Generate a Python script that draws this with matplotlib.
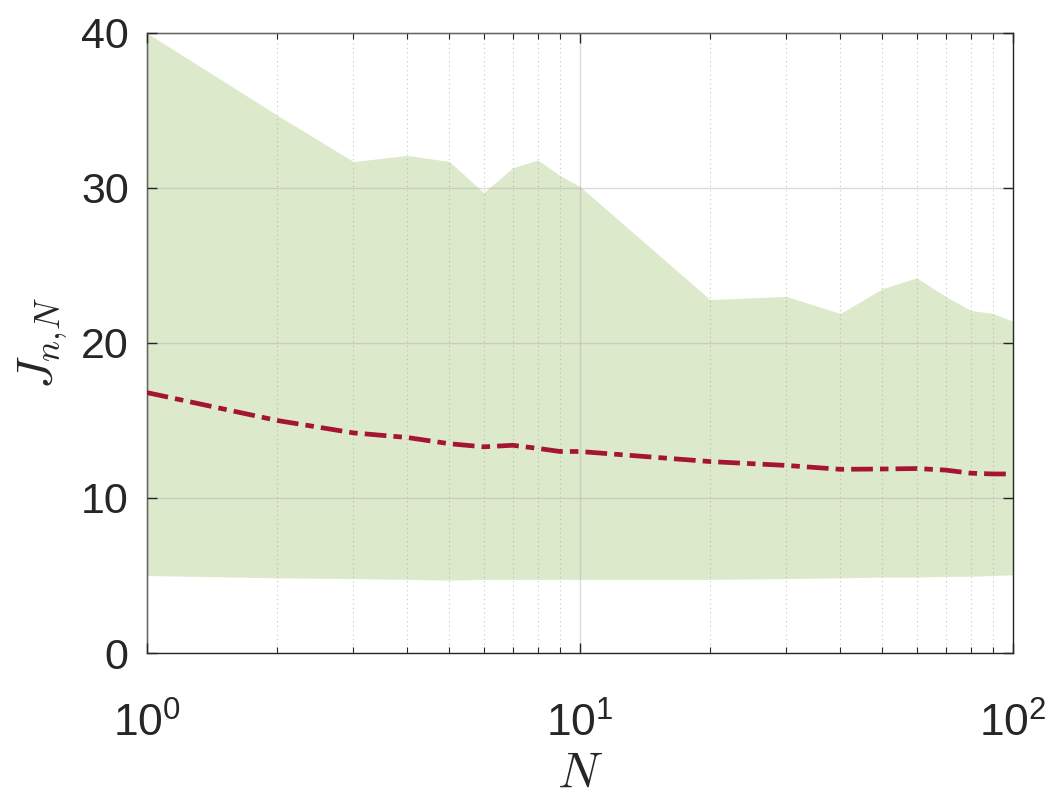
import matplotlib
matplotlib.use("Agg")
import matplotlib.pyplot as plt
import numpy as np
from matplotlib.ticker import LogLocator, NullFormatter

# values
N = [1, 2, 3, 4, 5, 6, 7, 8, 9, 10, 20, 30, 40, 50, 60, 70, 80, 90, 100]
J_upper = [40.0, 34.7, 31.7, 32.1, 31.7, 29.7, 31.3, 31.8, 30.8, 30.1,
           22.8, 23.0, 21.9, 23.5, 24.2, 23.0, 22.1, 21.9, 21.4]
J_lower = [5.0, 4.85, 4.8, 4.75, 4.7, 4.75, 4.75, 4.75, 4.75, 4.75,
           4.75, 4.8, 4.85, 4.9, 4.9, 4.95, 4.95, 5.0, 5.05]
J_mean = [16.8, 15.0, 14.2, 13.9, 13.5, 13.3, 13.4, 13.2, 13.0, 13.0,
          12.35, 12.1, 11.85, 11.87, 11.9, 11.8, 11.6, 11.55, 11.55]

plt.rcParams['font.family'] = ['Liberation Sans', 'DejaVu Sans']
axcol = '#262626'

fig = plt.figure(figsize=(10.56, 7.95), dpi=100)
ax = fig.add_axes([0.139, 0.1786, 0.820, 0.78])

ax.fill_between(N, J_lower, J_upper, color='#dce9ca', linewidth=0, zorder=1)
ax.plot(N, J_mean, color='#a51432', linewidth=3.4,
        linestyle=(0, (4.6, 1.5, 1.8, 1.5)), zorder=3)

ax.set_xscale('log')
ax.set_xlim(1, 100)
ax.set_ylim(0, 40)
ax.set_yticks([0, 10, 20, 30, 40])
ax.xaxis.set_minor_locator(LogLocator(base=10, subs=np.arange(2, 10)))
ax.xaxis.set_minor_formatter(NullFormatter())

# MATLAB-like grid on top of the fill
ax.set_axisbelow(False)
ax.grid(True, which='major', color='#b0b0b0', alpha=0.45, linewidth=1.0, zorder=2)
ax.grid(True, which='minor', axis='x', color='#a0a0a0', alpha=0.6,
        linestyle=(0, (1, 3)), linewidth=0.8, zorder=2)

ax.tick_params(which='both', direction='in', top=True, right=True, colors=axcol)
ax.tick_params(which='major', length=7, width=1.0)
ax.tick_params(which='minor', length=4, width=0.8)
ax.tick_params(axis='x', which='major', pad=36, labelsize=32)
ax.tick_params(axis='y', which='major', pad=13, labelsize=31)
for s in ax.spines.values():
    s.set_color(axcol)
    s.set_linewidth(1.0)

ax.set_xlabel(r'$N$', fontsize=36, color=axcol, math_fontfamily='cm', labelpad=3)
ax.set_ylabel(r'$J_{n,\!N}$', fontsize=36, color=axcol, math_fontfamily='cm', labelpad=8)

fig.savefig('out.png', dpi=100)
